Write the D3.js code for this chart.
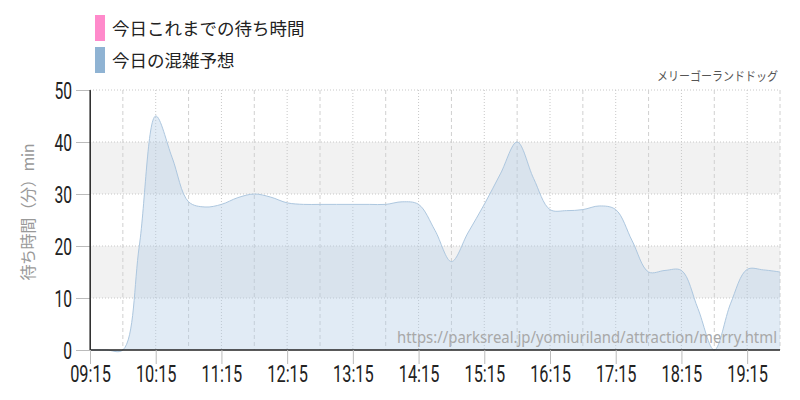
<!DOCTYPE html>
<html><head><meta charset="utf-8">
<script src="https://cdn.jsdelivr.net/npm/d3@7"></script>
<style>body{margin:0;background:#fff}svg{display:block}</style>
</head><body>
<svg id="c" width="800" height="400"></svg>
<script>
const times = ["09:15","09:30","09:45","10:00","10:15","10:30","10:45","11:00","11:15","11:30","11:45","12:00","12:15","12:30","12:45","13:00","13:15","13:30","13:45","14:00","14:15","14:30","14:45","15:00","15:15","15:30","15:45","16:00","16:15","16:30","16:45","17:00","17:15","17:30","17:45","18:00","18:15","18:30","18:45","19:00","19:15","19:30","19:45"];
const forecast = [0,0,0,20,45,37,28.5,27.5,28,29.3,30,29.4,28.3,28,28,28,28,28,28,28.5,28,23,17,22.5,28,34,40,33,27,26.8,27,27.7,27,21,15,15.3,15.3,8,0,9,15.5,15.4,15];
const actualWait = [];
const xTickLabels = ["09:15","10:15","11:15","12:15","13:15","14:15","15:15","16:15","17:15","18:15","19:15"];
const halfHourLines = ["09:45","10:45","11:45","12:45","13:45","14:45","15:45","16:45","17:45","18:45","19:45"];
const yTicks = [0,10,20,30,40,50];
const bands = [[10,20],[30,40]];
const legendItems = [{label:"今日これまでの待ち時間", color:"#ff8acb"},{label:"今日の混雑予想", color:"#8fb3d3"}];
const title = "メリーゴーランドドッグ";
const yLabel = "待ち時間（分）min";
const sourceUrl = "https://parksreal.jp/yomiuriland/attraction/merry.html";

const parse = d3.timeParse("%H:%M");
const svg = d3.select("#c");
const m = {l:90, r:780, t:90, b:350};
const x = d3.scaleTime().domain([parse("09:15"), parse("19:45")]).range([m.l, m.r]);
const y = d3.scaleLinear().domain([0,50]).range([m.b, m.t]);
const tickFont = "Roboto,sans-serif";
const sx = 0.68;
const jp = "'Noto Sans CJK JP',sans-serif";

// bands
svg.selectAll("rect.band").data(bands).enter().append("rect")
  .attr("x", m.l).attr("width", m.r-m.l)
  .attr("y", d=>y(d[1])).attr("height", d=>y(d[0])-y(d[1]))
  .attr("fill","#f2f2f2");

// horizontal grid
svg.selectAll("line.hg").data(yTicks.filter(d=>d>0)).enter().append("line")
  .attr("x1", m.l).attr("x2", m.r).attr("y1", d=>y(d)).attr("y2", d=>y(d))
  .attr("stroke","#c8c8c8").attr("stroke-dasharray","1,2");

// vertical grid: dotted at tick times, dashed at half hours
svg.selectAll("line.vg1").data(xTickLabels.slice(1)).enter().append("line")
  .attr("x1", d=>x(parse(d))).attr("x2", d=>x(parse(d))).attr("y1", m.t).attr("y2", m.b)
  .attr("stroke","#c8c8c8").attr("stroke-dasharray","1,2");
svg.selectAll("line.vg2").data(halfHourLines).enter().append("line")
  .attr("x1", d=>x(parse(d))).attr("x2", d=>x(parse(d))).attr("y1", m.t).attr("y2", m.b)
  .attr("stroke","#d0d0d0").attr("stroke-dasharray","4,3");

// area
const pts = times.map((t,i)=>({t:parse(t), v:forecast[i]}));
const area = d3.area().x(d=>x(d.t)).y0(y(0)).y1(d=>y(d.v)).curve(d3.curveCatmullRom);
const line = d3.line().x(d=>x(d.t)).y(d=>y(d.v)).curve(d3.curveCatmullRom);
svg.append("path").datum(pts).attr("d", area).attr("fill","rgba(175,203,228,0.38)");
svg.append("path").datum(pts).attr("d", line).attr("fill","none").attr("stroke","#adc7df").attr("stroke-width",1);

// actual (empty)
if (actualWait.length) {
  svg.append("path").datum(actualWait.map((v,i)=>({t:parse(times[i]), v}))).attr("d", line).attr("fill","none").attr("stroke","#ff8acb");
}

// axes
const yAxis = d3.axisLeft(y).tickValues(yTicks).tickSize(14).tickPadding(4);
const gy = svg.append("g").attr("transform",`translate(${m.l},0)`).call(yAxis);
gy.select(".domain").attr("stroke","#333");
gy.selectAll(".tick line").attr("stroke","#bbb");
gy.selectAll(".tick text").attr("font-family", tickFont).attr("font-size", 23).attr("fill","#222")
  .attr("dy","0.36em").attr("x", -18/sx).attr("transform",`scale(${sx},1)`);

const xAxis = d3.axisBottom(x).tickValues(xTickLabels.map(parse)).tickFormat(d3.timeFormat("%H:%M")).tickSize(14).tickPadding(1);
const gx = svg.append("g").attr("transform",`translate(0,${m.b})`).call(xAxis);
gx.select(".domain").attr("stroke","#222").attr("stroke-width",1.5).attr("d",`M${m.l},0H${m.r}`);
gx.selectAll(".tick line").attr("stroke","#bbb");
gx.selectAll(".tick text").attr("font-family", tickFont).attr("font-size", 24).attr("fill","#222")
  .attr("transform",`scale(${sx},1)`);

// left axis line on top
svg.append("line").attr("x1",m.l).attr("x2",m.l).attr("y1",m.t).attr("y2",m.b).attr("stroke","#333").attr("stroke-width",1.2);

// watermark
svg.append("text").attr("x", 777).attr("y", 343).attr("text-anchor","end")
  .attr("font-family","'Noto Sans',sans-serif").attr("font-size",15.5).attr("fill","#a8a8a8")
  .attr("textLength",380).attr("lengthAdjust","spacingAndGlyphs").text(sourceUrl);

// title
svg.append("text").attr("transform","translate(778,81) scale(0.88,1)").attr("text-anchor","end")
  .attr("font-family", jp).attr("font-size",12.5).attr("fill","#555").text(title);

// y label
svg.append("text").attr("transform","translate(34,212) rotate(-90)").attr("text-anchor","middle")
  .attr("font-family", jp).attr("font-size",16).attr("fill","#999")
  .attr("textLength",137).attr("lengthAdjust","spacing").text(yLabel);

// legend
const lg = svg.selectAll("g.lg").data(legendItems).enter().append("g").attr("transform",(d,i)=>`translate(95,${15+i*32})`);
lg.append("rect").attr("width",10).attr("height",26).attr("fill",d=>d.color);
lg.append("text").attr("x",17).attr("y",20).attr("font-family",jp).attr("font-size",17.5).attr("fill","#222").text(d=>d.label);
</script>
</body></html>
